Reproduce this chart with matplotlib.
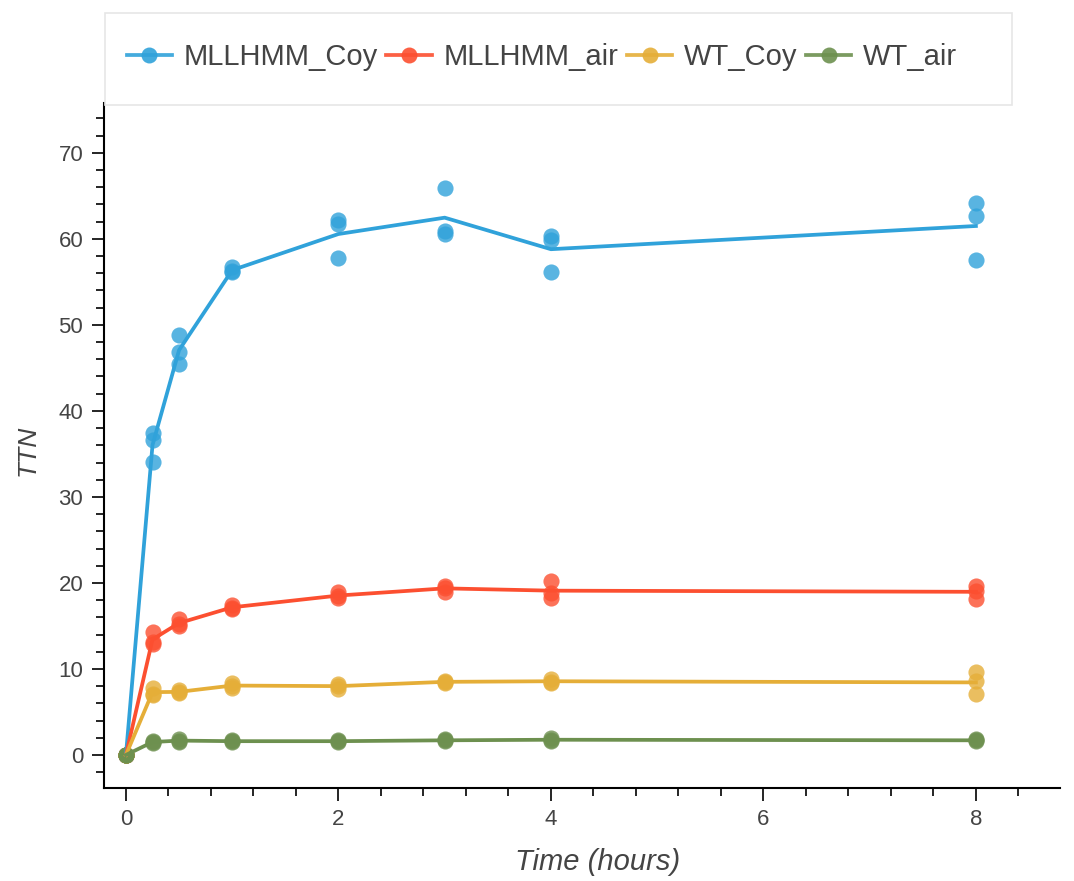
import numpy as np
import matplotlib
matplotlib.use("Agg")
import matplotlib.pyplot as plt
from matplotlib.lines import Line2D
from matplotlib.patches import Rectangle
from matplotlib.ticker import MultipleLocator

######################################
# DATA
######################################

times = [0, 0.25, 0.5, 1, 2, 3, 4, 8]

# three replicates per time point
mllhmm_coy = [[0, 0, 0], [37.4, 36.6, 34.1], [48.8, 46.9, 45.5], [56.7, 56.3, 56.1],
              [62.2, 61.7, 57.8], [65.9, 60.9, 60.6], [60.3, 59.9, 56.2], [64.2, 62.7, 57.6]]
mllhmm_air = [[0, 0, 0], [14.3, 13.1, 12.9], [15.8, 15.2, 15.0], [17.4, 17.1, 17.0],
              [18.9, 18.5, 18.2], [19.7, 19.4, 19.0], [20.2, 18.8, 18.3], [19.7, 19.1, 18.1]]
wt_coy = [[0, 0, 0], [7.8, 7.1, 7.0], [7.5, 7.3, 7.2], [8.4, 8.0, 7.8],
          [8.3, 8.0, 7.7], [8.6, 8.5, 8.4], [8.8, 8.5, 8.4], [9.6, 8.6, 7.1]]
wt_air = [[0, 0, 0], [1.6, 1.5, 1.4], [1.9, 1.6, 1.5], [1.7, 1.6, 1.5],
          [1.7, 1.6, 1.5], [1.8, 1.7, 1.6], [2.0, 1.7, 1.6], [1.8, 1.7, 1.6]]

labels = ["MLLHMM_Coy", "MLLHMM_air", "WT_Coy", "WT_air"]
colors = ["#30a2da", "#fc4f30", "#e5ae38", "#6d904f"]

######################################
# PLOT
######################################

plt.rcParams['font.family'] = ['Liberation Sans', 'DejaVu Sans']
text_color = "#444444"

fig = plt.figure(figsize=(10.74, 8.81), dpi=100)
ax = fig.add_axes([0.0968, 0.1056, 0.890, 0.7775])

handles = []
for series, color, label in zip([mllhmm_coy, mllhmm_air, wt_coy, wt_air], colors, labels):
	reps = np.array(series)
	t = np.repeat(times, reps.shape[1])
	ax.scatter(t, reps.ravel(), s=135, color=color, alpha=0.8, linewidths=0, zorder=2)
	ax.plot(times, reps.mean(axis=1), color=color, lw=2.7, zorder=3)	# line through the means
	handles.append(Line2D([], [], color=color, lw=2.7, marker="o", markersize=11.5,
	                      markeredgewidth=0, alpha=0.9))

ax.set_xlim(-0.207, 8.79)
ax.set_ylim(-3.84, 75.8)
ax.xaxis.set_major_locator(MultipleLocator(2))
ax.xaxis.set_minor_locator(MultipleLocator(0.4))
ax.yaxis.set_major_locator(MultipleLocator(10))
ax.yaxis.set_minor_locator(MultipleLocator(2))

for side in ["top", "right"]:
	ax.spines[side].set_visible(False)
for side in ["left", "bottom"]:
	ax.spines[side].set_linewidth(1.5)

ax.tick_params(which="major", direction="out", length=9, width=1.2, pad=6,
               labelsize=16, labelcolor=text_color)
ax.tick_params(which="minor", direction="out", length=6, width=1.2)

ax.set_xlabel("Time (hours)", fontsize=21, style="italic", color=text_color)
ax.set_ylabel("TTN", fontsize=19, style="italic", color=text_color)
ax.xaxis.set_label_coords(0.516, -0.088)
ax.yaxis.set_label_coords(-0.067, 0.493)

# legend above the plot, with its own light frame
fig.patches.append(Rectangle((105 / 1074, 1 - 105 / 881), 907 / 1074, 92 / 881,
                             transform=fig.transFigure, fill=False,
                             edgecolor="#e6e6e6", lw=1.2))
fig.legend(handles, labels, loc="center left", bbox_to_anchor=(112 / 1074, 1 - 57 / 881),
           ncol=4, frameon=False, fontsize=21, labelcolor=text_color,
           handlelength=1.55, handletextpad=0.4, columnspacing=0.3, borderpad=0)

fig.savefig("out.png", dpi=100)
